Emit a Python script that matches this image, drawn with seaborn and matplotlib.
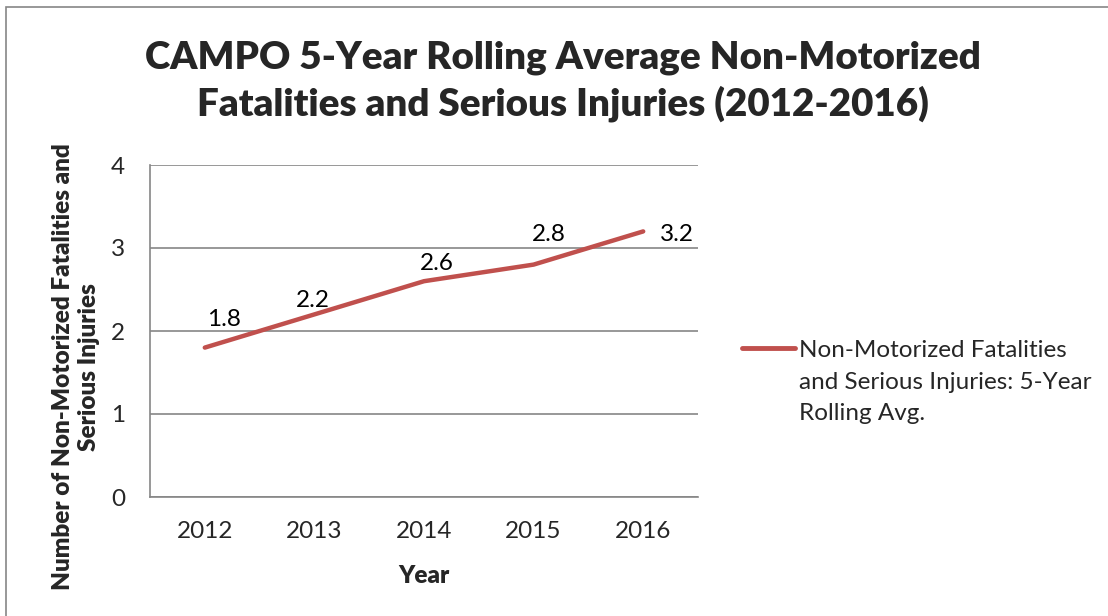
import matplotlib
matplotlib.use("Agg")
import matplotlib.pyplot as plt
import seaborn as sns
import pandas as pd
import numpy as np
from matplotlib.patches import Rectangle

# Data
years = ['2012', '2013', '2014', '2015', '2016']
rolling_avg = [1.8, 2.2, 2.6, 2.8, 3.2]
y_ticks = [0, 1, 2, 3, 4]
series_name = 'Non-Motorized Fatalities\nand Serious Injuries: 5-Year\nRolling Avg.'

df = pd.DataFrame({'Year': years, 'Value': rolling_avg})

sns.set_style('white')
plt.rcParams['font.family'] = ['Lato', 'DejaVu Sans']

red = '#C0504D'
grid_grey = '#868686'
fs = 17.5

fig = plt.figure(figsize=(11.08, 6.16), dpi=100)
ax = fig.add_axes([150 / 1108, 1 - 497 / 616, 548 / 1108, 332 / 616])

pos = np.arange(len(years))
sns.lineplot(x=pos, y=df['Value'], ax=ax, color=red, linewidth=3.2,
             solid_capstyle='round', label=series_name)

# data labels
label_offsets = [(13.5, 20), (-1, 10), (9.5, 12.5), (11, 21.5), (24, -2.5)]
for x, v, off in zip(pos, rolling_avg, label_offsets):
    ax.annotate(f'{v:.1f}', (x, v), xytext=off, textcoords='offset points',
                ha='center', va='center', fontsize=fs, color='black')

ax.set_xlim(-0.5, len(years) - 0.5)
ax.set_ylim(0, 4)
ax.set_yticks(y_ticks)
ax.set_yticklabels([str(t) for t in y_ticks], fontsize=fs)
ax.set_xticks(pos)
ax.set_xticklabels(years, fontsize=fs)
ax.set_xticks(np.arange(-0.5, len(years)), minor=True)
ax.tick_params(axis='x', which='major', length=0, pad=17.5)
ax.tick_params(axis='x', which='minor', length=6, width=1.2, color=grid_grey, direction='out')
ax.tick_params(axis='y', which='major', length=6, width=1.2, color=grid_grey, direction='out', pad=12)
ax.yaxis.grid(True, color=grid_grey, linewidth=1.2)
ax.set_axisbelow(True)
for s in ['top', 'right']:
    ax.spines[s].set_visible(False)
for s in ['left', 'bottom']:
    ax.spines[s].set_color(grid_grey)
    ax.spines[s].set_linewidth(1.2)

ax.set_xlabel('Year', fontsize=fs, fontweight='heavy', labelpad=16)
ax.set_ylabel('')
fig.text(76 / 1108, 1 - 367 / 616, 'Number of Non-Motorized Fatalities and\nSerious Injuries',
         rotation=90, ha='center', va='center', fontsize=fs, fontweight='heavy',
         linespacing=1.18, multialignment='center')

leg = ax.legend(loc='center left', bbox_to_anchor=(1.04, 0.346), frameon=False,
                fontsize=fs, handlelength=2.2, handletextpad=0.15, labelspacing=0.5)
for t in leg.get_texts():
    t.set_linespacing(1.6)
for l in leg.get_lines():
    l.set_linewidth(3.5)
    l.set_ydata(np.asarray(l.get_ydata()) + 24.5)

fig.text(563 / 1108, 1 - 81 / 616,
         'CAMPO 5-Year Rolling Average Non-Motorized\nFatalities and Serious Injuries (2012-2016)',
         ha='center', va='center', fontsize=27.7, fontweight='heavy', linespacing=1.36)

# chart border
fig.patches.append(Rectangle((6 / 1108, -0.1), 1.2, 1 - 7 / 616 + 0.1,
                             transform=fig.transFigure, fill=False,
                             edgecolor=grid_grey, linewidth=1.2))

fig.savefig('out.png', dpi=100)
